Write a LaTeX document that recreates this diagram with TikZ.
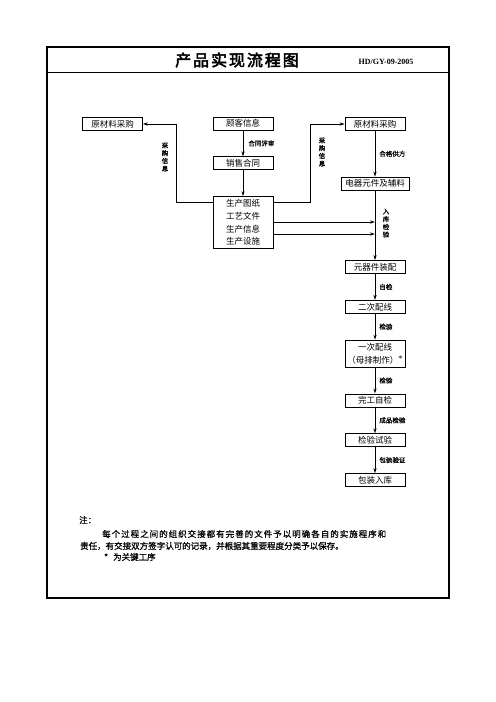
\documentclass[tikz,border=0pt]{standalone}
\usepackage{fontspec}
\setmainfont{Liberation Serif}
\newfontfamily\cjk{Noto Sans CJK SC}
\newfontfamily\cjktitle[FakeBold=3,LetterSpace=12]{Noto Sans CJK SC}
\newfontfamily\cjknote[FakeBold=0.8]{Noto Sans CJK SC}
\newfontfamily\cjknotewide[FakeBold=0.8,LetterSpace=11.8]{Noto Sans CJK SC}
\usetikzlibrary{arrows.meta,positioning,calc}

\tikzset{
  box/.style={draw, line width=0.8bp, minimum width=60bp, minimum height=13bp, inner sep=1bp, font=\cjk\fontsize{8.5bp}{12.7bp}\selectfont},
  lbl/.style={font=\cjknote\fontsize{6.5bp}{7.7bp}\selectfont, inner sep=1bp},
  vlbl/.style={lbl, align=center},
  note/.style={font=\cjknote\fontsize{8.5bp}{11bp}\selectfont, inner sep=0pt, anchor=west},
  arr/.style={line width=0.8bp, -{Stealth[length=5bp,width=3.2bp]}},
}

\begin{document}
\begin{tikzpicture}[x=1bp,y=-1bp,node distance=26bp]
\useasboundingbox (0,0) rectangle (496,702);
% frame and header
\draw[line width=1.2bp] (47,47) rectangle (449,598);
\draw[line width=1bp] (47,73) -- (449,73);
\node (title) at (237,60) {\cjktitle\fontsize{16bp}{18bp}\selectfont 产品实现流程图};
\node (code) at (386,62) {\bfseries\fontsize{8bp}{9bp}\selectfont HD/GY-09-2005};

% middle column
\node[box] (custinfo) at (243,123.5) {顾客信息};
\node[box] (contract) [below=of custinfo] {销售合同};
\node[box, align=center, minimum height=52bp] (prod) [below=of contract] {生产图纸\\工艺文件\\生产信息\\生产设施};

% purchasing
\node[box] (buyL) at (112.5,124) {原材料采购};
\node[box] (buyR) at (375,124) {原材料采购};
\node[box, minimum width=68bp] (elec) at (375,183.5) {电器元件及辅料};

% right column
\node[box] (assem) at (375,267) {元器件装配};
\node[box] (wire2) [below=of assem] {二次配线};
\node[box, align=center, minimum height=27bp] (wire1) [below=of wire2] {一次配线\\（母排制作）\raisebox{1.5bp}{\rmfamily *}};
\node[box] (selfchk) [below=of wire1] {完工自检};
\node[box] (test) [below=of selfchk] {检验试验};
\node[box] (pack) [below=of test] {包装入库};

\coordinate (jL) at (176,202);
\coordinate (jR) at (310,202);
\coordinate (in1) at (375,222);
\coordinate (in2) at (375,234);

\draw[arr] (custinfo) -- node[lbl, right=4bp] {合同评审} (contract);
\draw[arr] (contract) -- (prod);
\draw[arr] (prod.west |- jL) -| (jL |- buyL) -- (buyL);
\draw[arr] (prod.east |- jR) -| (jR |- buyR) -- (buyR);
\draw[arr] (buyR) -- node[lbl, right=3bp] {合格供方} (elec);
\draw[arr] (elec) -- (assem);
\draw[arr] (prod.east |- in1) -- (in1);
\draw[arr] (prod.east |- in2) -- (in2);

\node[vlbl] (lblbuyL) at (165,157) {采\\购\\信\\息};
\node[vlbl] (lblbuyR) at (322,152) {采\\购\\信\\息};
\node[vlbl] (lblin) at (386,223) {入\\库\\检\\验};

\draw[arr] (assem) -- node[lbl, right=3bp] {自检} (wire2);
\draw[arr] (wire2) -- node[lbl, right=3bp] {检验} (wire1);
\draw[arr] (wire1) -- node[lbl, right=3bp] {检验} (selfchk);
\draw[arr] (selfchk) -- node[lbl, right=3bp] {成品检验} (test);
\draw[arr] (test) -- node[lbl, right=3bp] {包装验证} (pack);

% notes
\node[note] (notehead) at (79,520) {注：};
\node[note, font=\cjknotewide\fontsize{8.5bp}{11bp}\selectfont] (note1) at (102,534) {每个过程之间的组织交接都有完善的文件予以明确各自的实施程序和};
\node[note] (note2) at (80,546) {责任，有交接双方签字认可的记录，并根据其重要程度分类予以保存。};
\node[note] (note3) at (104,557) {*\hspace{5bp}为关键工序};
\end{tikzpicture}
\end{document}
